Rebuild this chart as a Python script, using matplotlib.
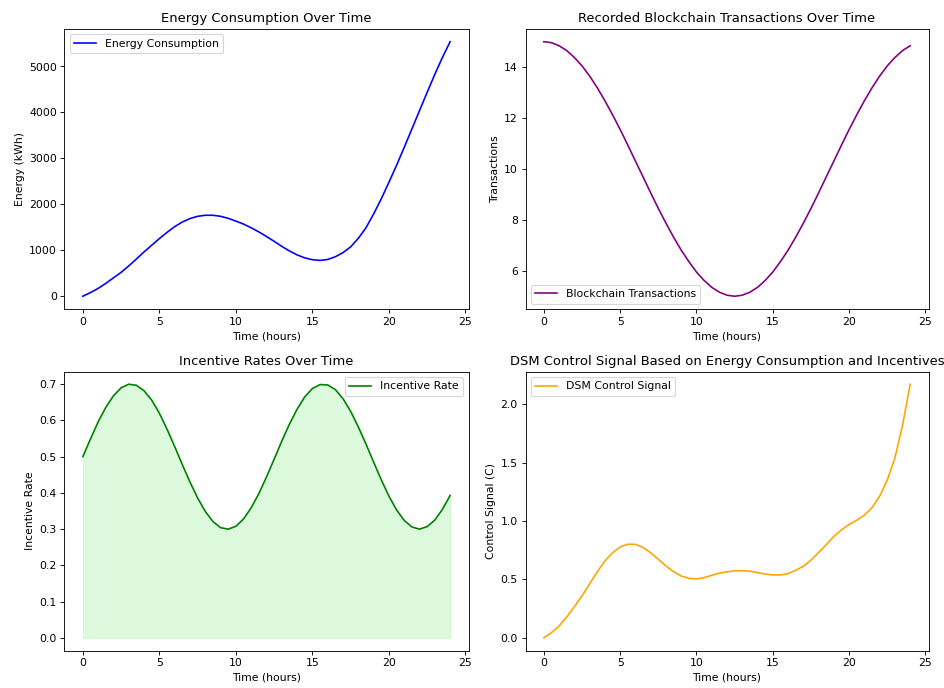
import numpy as np
import matplotlib.pyplot as plt

# half-hour grid, 0..24 h
time_hours = np.arange(0, 24.5, 0.5)

energy_kwh = [0, 80, 170, 280, 400, 520, 660, 810, 965, 1110,
              1255, 1390, 1515, 1615, 1690, 1740, 1762, 1762, 1740, 1695,
              1635, 1570, 1490, 1400, 1300, 1195, 1085, 985, 900, 835,
              795, 780, 800, 860, 950, 1075, 1260, 1490, 1790, 2120,
              2480, 2850, 3240, 3640, 4040, 4440, 4830, 5200, 5540]

transactions = [15.00, 14.96, 14.84, 14.65, 14.38, 14.05, 13.65, 13.19, 12.68, 12.13,
                11.55, 10.94, 10.31, 9.69, 9.06, 8.45, 7.87, 7.32, 6.81, 6.36,
                5.95, 5.62, 5.35, 5.16, 5.04, 5.00, 5.04, 5.16, 5.35, 5.62,
                5.95, 6.36, 6.81, 7.32, 7.87, 8.45, 9.06, 9.69, 10.31, 10.94,
                11.55, 12.13, 12.68, 13.19, 13.65, 14.05, 14.38, 14.65, 14.84]

incentive_rate = [0.500, 0.549, 0.596, 0.636, 0.668, 0.690, 0.700, 0.697, 0.682, 0.656,
                  0.620, 0.576, 0.528, 0.478, 0.430, 0.386, 0.349, 0.321, 0.304, 0.300,
                  0.308, 0.328, 0.359, 0.398, 0.444, 0.493, 0.543, 0.590, 0.631, 0.665,
                  0.688, 0.699, 0.698, 0.685, 0.660, 0.625, 0.582, 0.535, 0.485, 0.436,
                  0.391, 0.353, 0.324, 0.306, 0.300, 0.307, 0.325, 0.355, 0.393]

control_signal = [0.000, 0.044, 0.101, 0.178, 0.267, 0.359, 0.462, 0.565, 0.658, 0.728,
                  0.778, 0.801, 0.800, 0.772, 0.727, 0.672, 0.615, 0.566, 0.529, 0.509,
                  0.504, 0.515, 0.535, 0.553, 0.565, 0.573, 0.575, 0.570, 0.558, 0.546,
                  0.538, 0.538, 0.550, 0.578, 0.612, 0.665, 0.730, 0.797, 0.868, 0.924,
                  0.970, 1.006, 1.050, 1.114, 1.212, 1.350, 1.540, 1.820, 2.170]

fig = plt.figure(figsize=(12, 8.746))
ax1 = fig.add_axes([0.0683, 0.5509, 0.4280, 0.4070])
ax2 = fig.add_axes([0.5567, 0.5509, 0.4269, 0.4070])
ax3 = fig.add_axes([0.0683, 0.0545, 0.4280, 0.4055])
ax4 = fig.add_axes([0.5567, 0.0545, 0.4269, 0.4055])

ax1.plot(time_hours, energy_kwh, color='blue', label='Energy Consumption')
ax1.set_title('Energy Consumption Over Time')
ax1.set_xlabel('Time (hours)')
ax1.set_ylabel('Energy (kWh)')
ax1.legend(loc='upper left')

ax2.plot(time_hours, transactions, color='purple', label='Blockchain Transactions')
ax2.set_title('Recorded Blockchain Transactions Over Time')
ax2.set_xlabel('Time (hours)')
ax2.set_ylabel('Transactions')
ax2.legend(loc='lower left')

ax3.plot(time_hours, incentive_rate, color='green', label='Incentive Rate')
ax3.fill_between(time_hours, incentive_rate, color='lightgreen', alpha=0.3)
ax3.set_title('Incentive Rates Over Time')
ax3.set_xlabel('Time (hours)')
ax3.set_ylabel('Incentive Rate')
ax3.legend(loc='upper right')

ax4.plot(time_hours, control_signal, color='orange', label='DSM Control Signal')
ax4.set_title('DSM Control Signal Based on Energy Consumption and Incentives')
ax4.set_xlabel('Time (hours)')
ax4.set_ylabel('Control Signal (C)')
ax4.legend(loc='upper left')

fig.savefig('out.png', dpi=944 / 12)
